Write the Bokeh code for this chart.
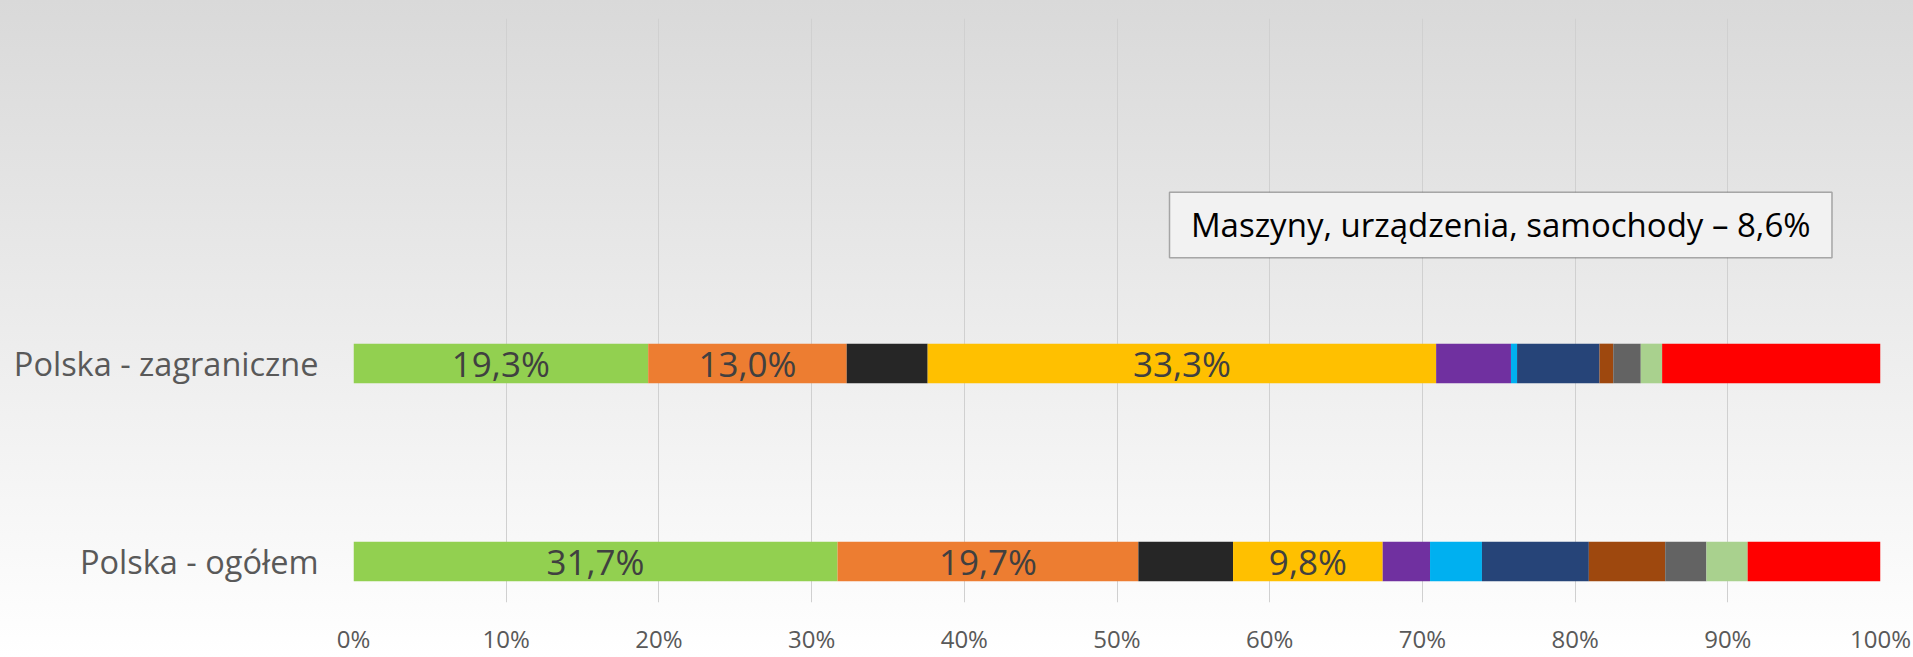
from bokeh.plotting import figure
from bokeh.models import ColumnDataSource, Range1d, FixedTicker, BoxAnnotation, Label
from bokeh.core.properties import value
from bokeh.embed import file_html
from bokeh.resources import INLINE

# ---- data ----
categories = ["Polska - ogółem", "Polska - zagraniczne"]
y_pos = [0, 1]
series_names = ["s01", "s02", "s03", "s04", "s05", "s06", "s07", "s08", "s09", "s10", "s11"]
series_colors = ["#92d050", "#ed7d31", "#262626", "#ffc000", "#7030a0", "#00b0f0",
                 "#264478", "#9e480e", "#636363", "#a9d18e", "#ff0000"]
ogolem = [31.7, 19.7, 6.2, 9.8, 3.1, 3.4, 7.0, 5.0, 2.7, 2.7, 8.7]
zagraniczne = [19.3, 13.0, 5.3, 33.3, 4.9, 0.4, 5.4, 0.9, 1.8, 1.4, 14.3]
labelled_series = [0, 1, 3]
x_ticks = [0, 10, 20, 30, 40, 50, 60, 70, 80, 90, 100]
x_tick_labels = ["0%", "10%", "20%", "30%", "40%", "50%", "60%", "70%", "80%", "90%", "100%"]
callout_text = "Maszyny, urządzenia, samochody – 8,6%"

FONT = "Open Sans"

p = figure(width=1913, height=657, output_backend="svg", toolbar_location=None,
           x_range=Range1d(0, 100), y_range=Range1d(-0.207, 2.742),
           min_border_left=353, min_border_right=33, min_border_top=18, min_border_bottom=46)
p.styles = {"background": "linear-gradient(#d9d9d9, #ffffff)"}
p.background_fill_color = None
p.border_fill_color = None
p.outline_line_color = None

data = {"y": y_pos}
for i, name in enumerate(series_names):
    data[name] = [ogolem[i], zagraniczne[i]]
src = ColumnDataSource(data)
p.hbar_stack(series_names, y="y", height=0.2, color=series_colors, source=src, line_width=0)

# segment labels
lx, ly, lt = [], [], []
for row, vals in zip(y_pos, [ogolem, zagraniczne]):
    cum = 0.0
    for i, v in enumerate(vals):
        if i in labelled_series:
            lx.append(cum + v / 2)
            ly.append(row)
            lt.append(("%.1f%%" % v).replace(".", ","))
        cum += v
p.text(x="x", y="y", text="t", source=ColumnDataSource(dict(x=lx, y=ly, t=lt)),
       text_font=value(FONT), text_font_size="35px", text_color="#404040",
       text_align="center", text_baseline="middle")

# callout box
box = BoxAnnotation(left=53.44, right=96.82, bottom=1.534, top=1.865,
                    fill_color="#f2f2f2", fill_alpha=1, line_color="#000000", line_width=1.5)
p.add_layout(box)
p.add_layout(Label(x=75.13, y=1.70, text=callout_text, text_font=FONT, text_font_size="33px",
                   text_color="#000000", text_align="center", text_baseline="middle"))

# axes
p.xaxis.ticker = FixedTicker(ticks=x_ticks)
p.xaxis.major_label_overrides = {t: l for t, l in zip(x_ticks, x_tick_labels)}
p.yaxis.ticker = FixedTicker(ticks=y_pos)
p.yaxis.major_label_overrides = {t: l for t, l in zip(y_pos, categories)}
for ax in (p.xaxis, p.yaxis):
    ax.axis_line_color = None
    ax.major_tick_line_color = None
    ax.minor_tick_line_color = None
    ax.major_label_text_font = FONT
    ax.major_label_text_color = "#595959"
p.xaxis.major_label_text_font_size = "24px"
p.xaxis.major_label_standoff = 13
p.yaxis.major_label_text_font_size = "32.5px"
p.yaxis.major_label_standoff = 29

p.ygrid.grid_line_color = None
p.xgrid.grid_line_color = "#d0d0d0"
p.xgrid.grid_line_width = 1

open("out.html", "w").write(file_html(p, INLINE))
